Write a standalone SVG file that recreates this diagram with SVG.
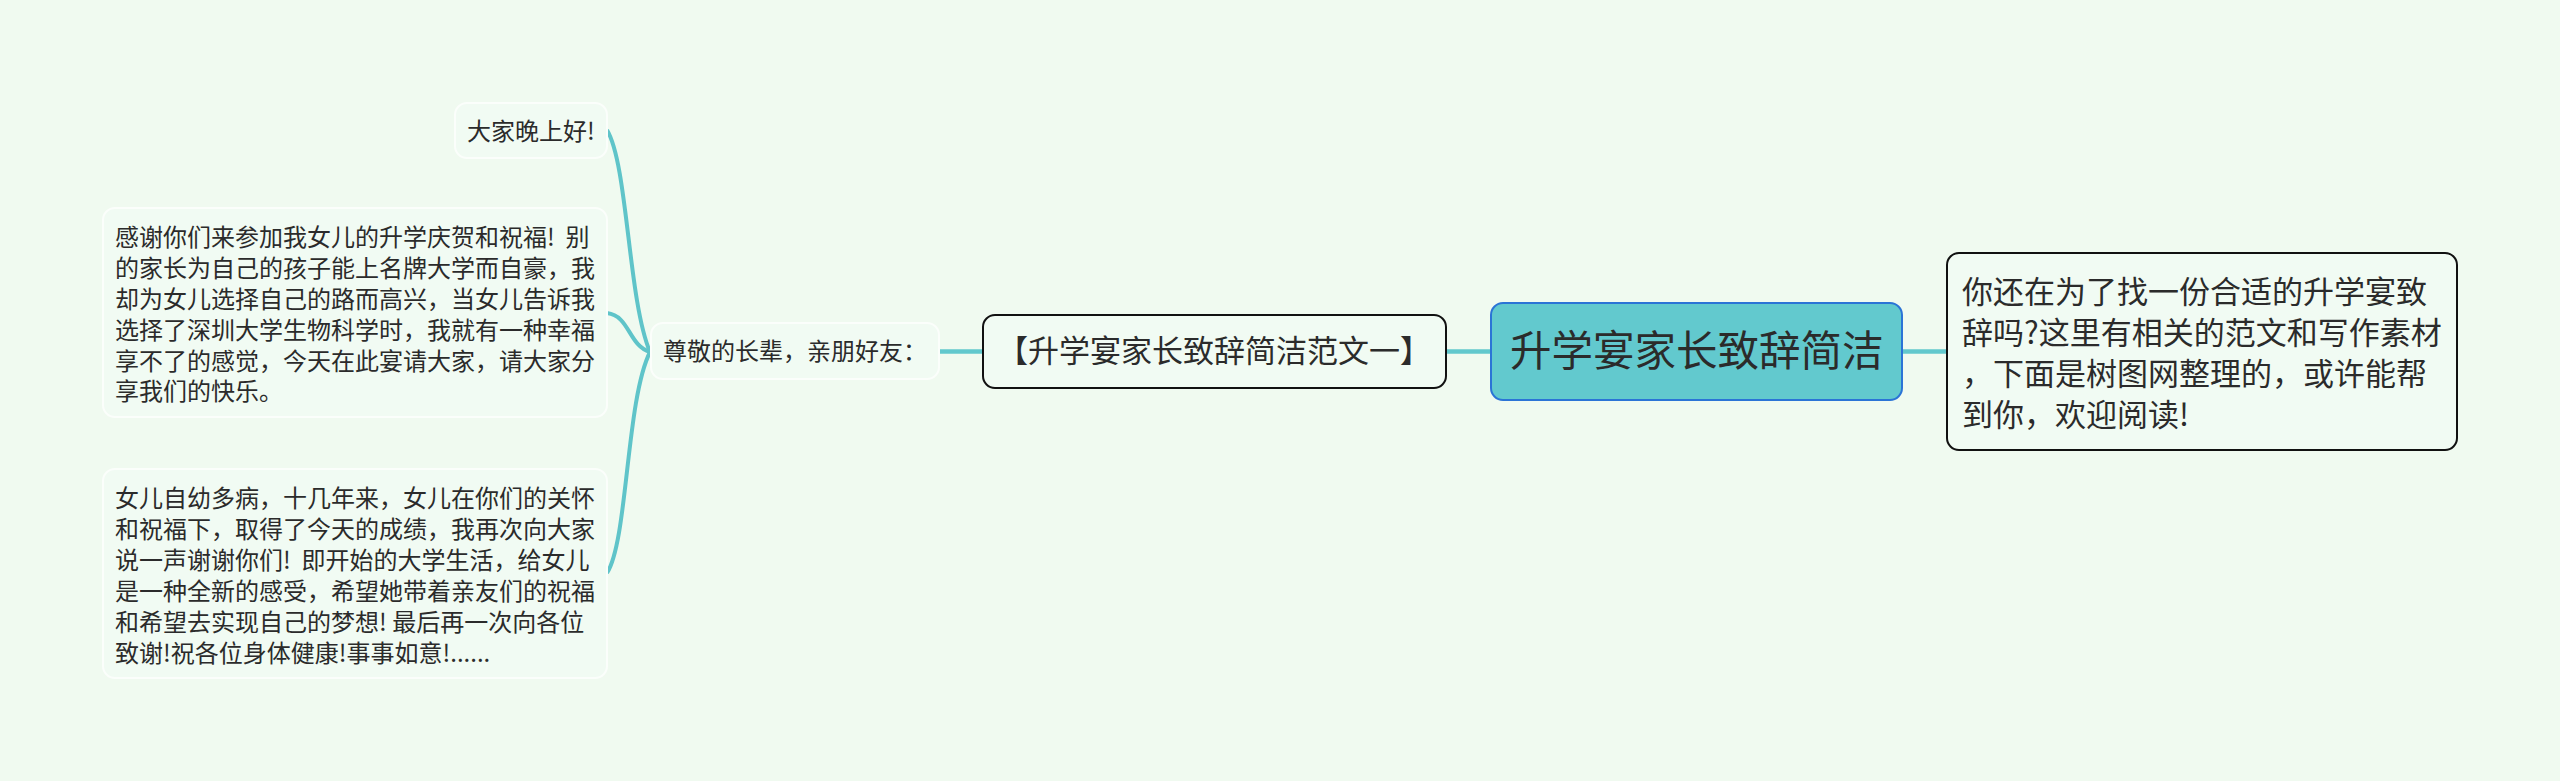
<svg xmlns="http://www.w3.org/2000/svg" width="2560" height="781" viewBox="0 0 2560 781">
<style>
text{font-family:"Noto Sans CJK SC","Noto Sans",sans-serif;fill:#2b2b2b;white-space:pre}
.leaf{fill:#f1fbf3;stroke:#fbfefb;stroke-width:2}
.sub{fill:#f1fbf3;stroke:#111;stroke-width:2}
.s24{font-size:24px}
.bar{stroke:#62c8cd;stroke-width:4.5;fill:none}
.cv{stroke:#5fc4c9;stroke-width:4;fill:none}
</style>
<rect width="2560" height="781" fill="#f0faf0"/>
<g id="connectors">
<path class="bar" d="M939 351.500H983"/>
<path class="bar" d="M1446 351.500H1491"/>
<path class="bar" d="M1902 351.500H1947"/>
<path class="cv" d="M607 130C628 165 628 300 650 352"/>
<path class="cv" d="M607 313C630 316 628 345 650 352"/>
<path class="cv" d="M607 573C628 540 626 400 650 352"/>
</g>
<g id="n1"><rect class="leaf" x="455" y="103" width="152" height="55" rx="12"/>
<text class="s24" x="467" y="140">大家晚上好!</text></g>
<g id="n2"><rect class="leaf" x="103" y="208" width="504" height="209" rx="12"/>
<text class="s24"><tspan x="115" y="246">感谢你们来参加我女儿的升学庆贺和祝福!  别</tspan><tspan x="115" y="277">的家长为自己的孩子能上名牌大学而自豪，我</tspan><tspan x="115" y="308">却为女儿选择自己的路而高兴，当女儿告诉我</tspan><tspan x="115" y="339">选择了深圳大学生物科学时，我就有一种幸福</tspan><tspan x="115" y="370">享不了的感觉，今天在此宴请大家，请大家分</tspan><tspan x="115" y="400">享我们的快乐。</tspan></text></g>
<g id="n3"><rect class="leaf" x="103" y="469" width="504" height="209" rx="12"/>
<text class="s24"><tspan x="115" y="507">女儿自幼多病，十几年来，女儿在你们的关怀</tspan><tspan x="115" y="538">和祝福下，取得了今天的成绩，我再次向大家</tspan><tspan x="115" y="569">说一声谢谢你们!  即开始的大学生活，给女儿</tspan><tspan x="115" y="600">是一种全新的感受，希望她带着亲友们的祝福</tspan><tspan x="115" y="631">和希望去实现自己的梦想! 最后再一次向各位</tspan><tspan x="115" y="662">致谢!祝各位身体健康!事事如意!......</tspan></text></g>
<g id="n4"><rect class="leaf" x="651" y="323" width="288" height="56" rx="12"/>
<text class="s24" x="663" y="360">尊敬的长辈，亲朋好友：</text></g>
<g id="n5"><rect class="sub" x="983" y="315" width="463" height="73" rx="12"/>
<text font-size="31" x="997" y="362">【升学宴家长致辞简洁范文一】</text></g>
<g id="root"><rect x="1491" y="303" width="411" height="97" rx="12" fill="#62c9ce" stroke="#2b74d6" stroke-width="2"/>
<text font-size="41.500" x="1510" y="366">升学宴家长致辞简洁</text></g>
<g id="n6"><rect class="sub" x="1947" y="253" width="510" height="197" rx="12"/>
<text font-size="31"><tspan x="1962" y="303">你还在为了找一份合适的升学宴致</tspan><tspan x="1962" y="344">辞吗?这里有相关的范文和写作素材</tspan><tspan x="1962" y="385">，下面是树图网整理的，或许能帮</tspan><tspan x="1962" y="426">到你，欢迎阅读!</tspan></text></g>
</svg>
